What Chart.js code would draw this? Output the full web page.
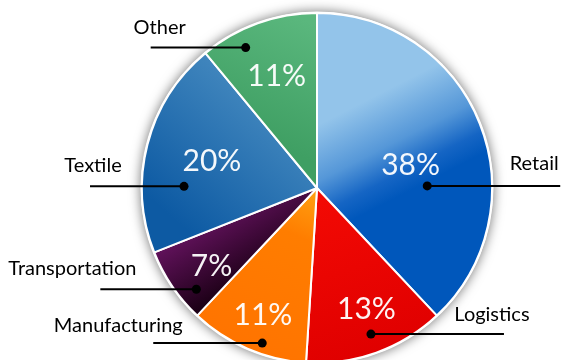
<!DOCTYPE html>
<html lang="en">
<head>
<meta charset="UTF-8">
<title>Sector share</title>
<script src="https://cdn.jsdelivr.net/npm/chart.js@4.4.0/dist/chart.umd.min.js"></script>
<style>
    html, body { margin: 0; padding: 0; background: #fff; overflow: hidden; }
    #wrap { width: 561px; height: 366px; }
</style>
</head>
<body>
<div id="wrap"><canvas id="myChart"></canvas></div>
<script>
// data, clockwise from 12 o'clock
const categories = ['Retail', 'Logistics', 'Manufacturing', 'Transportation', 'Textile', 'Other'];
const shares = [38, 13, 11, 7, 20, 11];
const percentText = ['38%', '13%', '11%', '7%', '20%', '11%'];

// where the callout dot / percent text sit inside a slice
// a = fraction of the slice's angle, r = fraction of the radius
const dotSpot = [
    {a: 0.65, r: 0.63}, {a: 0.49, r: 0.89}, {a: 0.40, r: 0.94},
    {a: 0.27, r: 0.90}, {a: 0.31, r: 0.76}, {a: 0.32, r: 0.90}
];
const pctSpot = [
    {a: 0.56, r: 0.55}, {a: 0.45, r: 0.75}, {a: 0.49, r: 0.79},
    {a: 0.41, r: 0.75}, {a: 0.50, r: 0.62}, {a: 0.50, r: 0.68}
];
// leader line length (minus = goes left) and label offset from the line end
const leader = [
    {len: 133, dx: -26, dy: -22}, {len: 133, dx: -12, dy: -20}, {len: -109, dx: -35, dy: -18},
    {len: -96, dx: -28, dy: -21}, {len: -94, dx: 3, dy: -21}, {len: -95, dx: 9, dy: -20}
];
// gradients, in units of the radius from the centre
const sliceGrad = [
    {from: [0.32, -0.52], to: [0.58, -0.01], stops: [[0, '#93c4ea'], [0.5, '#5597d8'], [0.8, '#1565c4'], [1, '#0057bb']]},
    {from: [0, 0], to: [0.3, 0.95], stops: [[0, '#f40a04'], [1, '#e00000']]},
    {from: [0, 0], to: [-0.4, 0.9], stops: [[0, '#ffa212'], [0.3, '#ff7d00'], [1, '#ff7400']]},
    {from: [-0.75, 0.28], to: [-0.55, 0.62], stops: [[0, '#5f1159'], [1, '#1c0016']]},
    {from: [-0.2, -0.6], to: [-0.85, 0.15], stops: [[0, '#4a8ec2'], [1, '#0d5aa3']]},
    {from: [-0.05, -0.95], to: [-0.35, -0.3], stops: [[0, '#5ab77d'], [1, '#3f9f63']]}
];

function f_fill(c) {
    const chart = c.chart;
    const area = chart.chartArea;
    const g = sliceGrad[c.dataIndex];
    if (!area) return g.stops[g.stops.length - 1][1];
    const cx = (area.left + area.right) / 2;
    const cy = (area.top + area.bottom) / 2;
    const r = (Math.min(area.width, area.height) - 2) / 2;
    const grad = chart.ctx.createLinearGradient(cx + g.from[0] * r, cy + g.from[1] * r,
                                                cx + g.to[0] * r, cy + g.to[1] * r);
    g.stops.forEach(s => grad.addColorStop(s[0], s[1]));
    return grad;
}

function f_spot(arc, s) {
    const ang = arc.startAngle + s.a * (arc.endAngle - arc.startAngle);
    return {x: arc.x + Math.cos(ang) * arc.outerRadius * s.r,
            y: arc.y + Math.sin(ang) * arc.outerRadius * s.r};
}

// soft shadow + white rim under the pie
const shadowPlugin = {
    id: 'shadow',
    beforeDatasetsDraw(chart) {
        const arc = chart.getDatasetMeta(0).data[0];
        const ctx = chart.ctx;
        ctx.save();
        ctx.shadowColor = 'rgba(0,0,0,0.55)';
        ctx.shadowBlur = 12;
        ctx.fillStyle = '#fff';
        ctx.beginPath();
        ctx.arc(arc.x, arc.y, arc.outerRadius + 1.5, 0, Math.PI * 2);
        ctx.fill();
        ctx.restore();
    }
};

// percent text, dots, leader lines, category names
const calloutPlugin = {
    id: 'callouts',
    afterDatasetsDraw(chart) {
        const ctx = chart.ctx;
        const arcs = chart.getDatasetMeta(0).data;
        ctx.save();
        arcs.forEach((arc, i) => {
            const p = f_spot(arc, pctSpot[i]);
            ctx.fillStyle = 'rgba(255,255,255,0.95)';
            ctx.font = '30px Lato, "Open Sans", sans-serif';
            ctx.textAlign = 'center';
            ctx.textBaseline = 'middle';
            ctx.fillText(percentText[i], p.x, p.y);

            const d = f_spot(arc, dotSpot[i]);
            const L = leader[i];
            const endX = d.x + L.len;
            ctx.strokeStyle = '#000';
            ctx.lineWidth = 2;
            ctx.beginPath();
            ctx.moveTo(d.x, d.y);
            ctx.lineTo(endX, d.y);
            ctx.stroke();
            ctx.fillStyle = '#000';
            ctx.beginPath();
            ctx.arc(d.x, d.y, 4.5, 0, Math.PI * 2);
            ctx.fill();

            ctx.font = '20px Lato, "Open Sans", sans-serif';
            ctx.fillText(categories[i], endX + L.dx, d.y + L.dy);
        });
        ctx.restore();
    }
};

const ctx = document.getElementById('myChart').getContext('2d');
const myChart = new Chart(ctx, {
    type: 'pie',
    data: {
        labels: categories,
        datasets: [{
            data: shares,
            backgroundColor: f_fill,
            borderColor: '#fff',
            borderWidth: 2
        }]
    },
    options: {
        responsive: true,
        maintainAspectRatio: false,
        animation: false,
        layout: { padding: {left: 141, right: 68, top: 12, bottom: 2} },
        plugins: {
            legend: { display: false },
            tooltip: { enabled: false }
        }
    },
    plugins: [shadowPlugin, calloutPlugin]
});
</script>
</body>
</html>
